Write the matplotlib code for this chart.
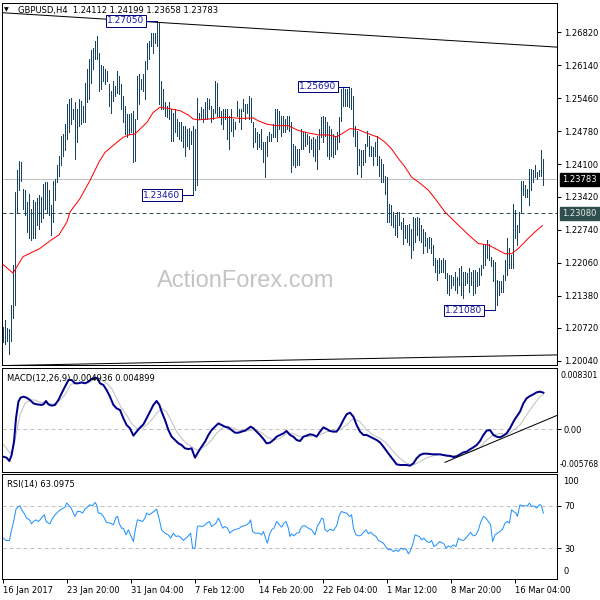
"""GBPUSD H4 chart: price bars with moving average, MACD and RSI panels."""

import matplotlib

matplotlib.use("Agg")
import matplotlib.pyplot as plt

# --- price bars (high / low per H4 bar) ---
BAR_HIGH = [
    1.2074, 1.2089, 1.2072, 1.2069, 1.2120, 1.2202, 1.2352, 1.2397, 1.2417, 1.2414,
    1.2359, 1.2356, 1.2332, 1.2349, 1.2318, 1.2335, 1.2332, 1.2339, 1.2346, 1.2342,
    1.2369, 1.2373, 1.2373, 1.2356, 1.2325, 1.2376, 1.2380, 1.2407, 1.2427, 1.2468,
    1.2472, 1.2492, 1.2533, 1.2544, 1.2547, 1.2523, 1.2537, 1.2523, 1.2544, 1.2540,
    1.2530, 1.2578, 1.2605, 1.2626, 1.2646, 1.2649, 1.2663, 1.2673, 1.2639, 1.2615,
    1.2612, 1.2605, 1.2602, 1.2574, 1.2561, 1.2581, 1.2571, 1.2602, 1.2591, 1.2574,
    1.2550, 1.2530, 1.2513, 1.2513, 1.2516, 1.2520, 1.2503, 1.2591, 1.2595, 1.2585,
    1.2595, 1.2622, 1.2660, 1.2663, 1.2680, 1.2680, 1.2680, 1.2705, 1.2701, 1.2581,
    1.2564, 1.2537, 1.2530, 1.2537, 1.2523, 1.2516, 1.2523, 1.2503, 1.2496, 1.2496,
    1.2489, 1.2489, 1.2482, 1.2485, 1.2479, 1.2489, 1.2482, 1.2547, 1.2516, 1.2527,
    1.2523, 1.2537, 1.2547, 1.2544, 1.2530, 1.2523, 1.2581, 1.2578, 1.2527, 1.2520,
    1.2523, 1.2523, 1.2523, 1.2509, 1.2523, 1.2503, 1.2496, 1.2540, 1.2523, 1.2523,
    1.2544, 1.2533, 1.2533, 1.2550, 1.2547, 1.2496, 1.2485, 1.2475, 1.2472, 1.2482,
    1.2455, 1.2455, 1.2468, 1.2475, 1.2472, 1.2492, 1.2523, 1.2523, 1.2520, 1.2509,
    1.2509, 1.2503, 1.2509, 1.2509, 1.2496, 1.2451, 1.2448, 1.2441, 1.2441, 1.2482,
    1.2475, 1.2475, 1.2472, 1.2468, 1.2462, 1.2465, 1.2462, 1.2468, 1.2482, 1.2506,
    1.2509, 1.2506, 1.2496, 1.2489, 1.2482, 1.2472, 1.2468, 1.2475, 1.2506, 1.2564,
    1.2567, 1.2564, 1.2564, 1.2569, 1.2567, 1.2550, 1.2489, 1.2479, 1.2441, 1.2438,
    1.2438, 1.2451, 1.2479, 1.2468, 1.2448, 1.2445, 1.2455, 1.2468, 1.2427, 1.2421,
    1.2410, 1.2386, 1.2383, 1.2328, 1.2325, 1.2311, 1.2304, 1.2311, 1.2311, 1.2291,
    1.2298, 1.2284, 1.2284, 1.2287, 1.2277, 1.2301, 1.2298, 1.2301, 1.2298, 1.2284,
    1.2277, 1.2270, 1.2257, 1.2260, 1.2257, 1.2243, 1.2216, 1.2212, 1.2216, 1.2212,
    1.2216, 1.2212, 1.2185, 1.2181, 1.2181, 1.2178, 1.2188, 1.2178, 1.2195, 1.2199,
    1.2188, 1.2188, 1.2185, 1.2195, 1.2188, 1.2192, 1.2192, 1.2188, 1.2195, 1.2202,
    1.2246, 1.2246, 1.2253, 1.2246, 1.2219, 1.2212, 1.2209, 1.2171, 1.2168, 1.2168,
    1.2181, 1.2212, 1.2257, 1.2236, 1.2222, 1.2328, 1.2315, 1.2284, 1.2311, 1.2376,
    1.2376, 1.2366, 1.2359, 1.2400, 1.2400, 1.2397, 1.2407, 1.2393, 1.2397, 1.2438,
    1.2420,
]
BAR_LOW = [
    1.2042, 1.2038, 1.2045, 1.2018, 1.2045, 1.2093, 1.2120, 1.2308, 1.2356, 1.2376,
    1.2318, 1.2304, 1.2270, 1.2257, 1.2253, 1.2257, 1.2257, 1.2284, 1.2277, 1.2291,
    1.2298, 1.2318, 1.2311, 1.2304, 1.2264, 1.2291, 1.2335, 1.2373, 1.2386, 1.2407,
    1.2427, 1.2438, 1.2462, 1.2475, 1.2492, 1.2503, 1.2421, 1.2455, 1.2489, 1.2492,
    1.2496, 1.2496, 1.2537, 1.2544, 1.2578, 1.2605, 1.2626, 1.2626, 1.2561, 1.2564,
    1.2581, 1.2574, 1.2581, 1.2530, 1.2516, 1.2540, 1.2550, 1.2557, 1.2554, 1.2523,
    1.2496, 1.2472, 1.2465, 1.2472, 1.2475, 1.2414, 1.2417, 1.2503, 1.2533, 1.2564,
    1.2561, 1.2544, 1.2605, 1.2626, 1.2653, 1.2639, 1.2660, 1.2653, 1.2533, 1.2523,
    1.2523, 1.2509, 1.2506, 1.2503, 1.2458, 1.2458, 1.2475, 1.2468, 1.2462, 1.2458,
    1.2445, 1.2427, 1.2448, 1.2441, 1.2451, 1.2346, 1.2356, 1.2366, 1.2503, 1.2503,
    1.2496, 1.2503, 1.2503, 1.2523, 1.2496, 1.2503, 1.2516, 1.2509, 1.2506, 1.2492,
    1.2482, 1.2503, 1.2462, 1.2441, 1.2479, 1.2468, 1.2482, 1.2509, 1.2496, 1.2482,
    1.2520, 1.2503, 1.2516, 1.2503, 1.2496, 1.2445, 1.2455, 1.2441, 1.2445, 1.2441,
    1.2414, 1.2383, 1.2427, 1.2458, 1.2458, 1.2465, 1.2465, 1.2458, 1.2482, 1.2468,
    1.2475, 1.2475, 1.2482, 1.2479, 1.2393, 1.2407, 1.2404, 1.2407, 1.2407, 1.2441,
    1.2441, 1.2448, 1.2451, 1.2434, 1.2441, 1.2427, 1.2417, 1.2400, 1.2441, 1.2465,
    1.2455, 1.2468, 1.2427, 1.2421, 1.2427, 1.2424, 1.2431, 1.2441, 1.2455, 1.2499,
    1.2530, 1.2530, 1.2530, 1.2527, 1.2523, 1.2468, 1.2448, 1.2390, 1.2407, 1.2383,
    1.2407, 1.2414, 1.2448, 1.2427, 1.2427, 1.2407, 1.2427, 1.2407, 1.2386, 1.2373,
    1.2373, 1.2349, 1.2291, 1.2291, 1.2284, 1.2281, 1.2264, 1.2260, 1.2284, 1.2277,
    1.2246, 1.2257, 1.2250, 1.2243, 1.2216, 1.2233, 1.2250, 1.2264, 1.2253, 1.2250,
    1.2226, 1.2240, 1.2229, 1.2236, 1.2226, 1.2202, 1.2188, 1.2171, 1.2185, 1.2188,
    1.2188, 1.2175, 1.2144, 1.2140, 1.2154, 1.2161, 1.2151, 1.2144, 1.2161, 1.2140,
    1.2134, 1.2161, 1.2164, 1.2147, 1.2161, 1.2140, 1.2144, 1.2158, 1.2161, 1.2181,
    1.2195, 1.2202, 1.2216, 1.2212, 1.2199, 1.2168, 1.2108, 1.2120, 1.2140, 1.2147,
    1.2147, 1.2171, 1.2181, 1.2195, 1.2195, 1.2195, 1.2257, 1.2243, 1.2270, 1.2311,
    1.2346, 1.2342, 1.2342, 1.2325, 1.2356, 1.2373, 1.2383, 1.2380, 1.2386, 1.2386,
    1.2366,
]

# red moving average, sampled along the line
MA_BAR = [0, 5, 10, 18.5, 24, 28, 32, 33.5, 38.5, 43.5,
          48, 51, 55, 60, 63, 66, 68.5, 72, 75, 78.5,
          83.5, 88.5, 92.7, 95, 97.7, 103.5, 108.5, 113.5, 118.5, 125,
          127.7, 132, 137, 142.7, 147.7, 152.7, 157.7, 162.7, 166.8, 169.3,
          173.5, 177.7, 181, 184.3, 187.7, 191, 194.3, 197.7, 201, 204.3,
          207.7, 212.7, 216, 221, 227.7, 232.7, 237.7, 242.7, 246, 251,
          254.3, 257.7, 262.7, 266, 269.7]
MA_VAL = [1.2203, 1.2185, 1.2219, 1.2236, 1.2253, 1.2264, 1.2291, 1.2311, 1.2339, 1.2376,
          1.2414, 1.2434, 1.2448, 1.2465, 1.2470, 1.2472, 1.2482, 1.2496, 1.2516, 1.2527,
          1.2524, 1.2520, 1.2511, 1.2503, 1.2501, 1.2503, 1.2506, 1.2506, 1.2504, 1.2505,
          1.2499, 1.2492, 1.2489, 1.2489, 1.2479, 1.2474, 1.2470, 1.2470, 1.2466, 1.2472,
          1.2483, 1.2481, 1.2475, 1.2470, 1.2465, 1.2455, 1.2441, 1.2421, 1.2404, 1.2383,
          1.2373, 1.2356, 1.2339, 1.2311, 1.2284, 1.2264, 1.2246, 1.2243, 1.2236, 1.2225,
          1.2225, 1.2236, 1.2257, 1.2270, 1.2283]

# trend lines on the price panel (end points)
TOP_LINE_BAR = [-0.5, 277]
TOP_LINE_VAL = [1.2722, 1.2651]
BOT_LINE_BAR = [-0.5, 277]
BOT_LINE_VAL = [1.19944, 1.20164]

LAST_CLOSE = 1.23783
LEVEL = 1.23080
PEAK_BAR = [77, 95, 173, 246]
PEAK_VAL = [1.27050, 1.23460, 1.25690, 1.21080]
PRICE_TICKS = [1.26820, 1.26140, 1.25460, 1.24780, 1.24100, 1.23420,
               1.22740, 1.22060, 1.21380, 1.20720, 1.20040]
TITLE = "GBPUSD,H4  1.24112 1.24199 1.23658 1.23783"

# MACD(12,26,9)
MACD_BAR = [0, 1.8, 3.2, 4.3, 5.5, 6.5, 7.7, 8.8, 10.2, 11.8,
            13.5, 15.2, 16.8, 19.3, 20.2, 21.5, 22.7, 24.3, 26, 27.7,
            29.3, 31, 32.7, 34.3, 36, 37.7, 39.3, 41, 42.7, 44.3,
            46, 47.2, 48.5, 50.2, 51.8, 53.5, 55.2, 56.8, 58.5, 60.2,
            61.8, 63.5, 65.2, 66.8, 68.5, 70.2, 71.8, 73.5, 75.2, 76.8,
            78.2, 79.3, 81, 82.7, 84.3, 86, 87.7, 89.3, 91, 92.7,
            94.3, 96, 97.7, 99.3, 101, 102.7, 104.3, 106, 107.7, 109.3,
            111, 112.7, 114.3, 116, 117.7, 119.3, 121, 122.7, 123.8, 125.2,
            126.8, 128.5, 130.2, 131.8, 133.5, 135.2, 136.8, 138.5, 140.2, 141.8,
            143.5, 145.2, 146.8, 148.5,
            150.2, 151.8, 153.5, 155.2, 156.8, 158.5, 160.2, 161.8, 163.5, 165.2,
            166.8, 168.5, 170.2, 171.8, 173.5, 175.2, 176.8, 178.5, 180.2, 181.8,
            183.5, 185.2, 186.8, 188.5, 190.2, 191.8, 193.5, 195.2, 196.8, 198.5,
            200.2, 201.8, 203.5, 205.2, 206.8, 208.5, 210.2, 211.8, 213.5, 215.2,
            216.8, 218.5, 220.2, 221.8, 223.5, 225.2, 226.8, 228.5, 230.2, 231.8,
            233.5, 235.2, 236.8, 238.5, 240.2, 241.8, 243.5, 245.2, 246.8, 248.5,
            250.2, 251.8, 253.5, 255.2, 256.8, 258.5, 260.2, 261.8, 263.5, 265.2,
            266.8, 268.5, 270.2]
MACD_VAL = [-0.00369, -0.00383, -0.00428, -0.00347, -0.00167, 0.00149, 0.00375, 0.00429, 0.00442, 0.00429,
            0.00397, 0.00352, 0.00339, 0.00330, 0.00339, 0.00384, 0.00339, 0.00321, 0.00330, 0.00397,
            0.00487, 0.00578, 0.00668, 0.00668, 0.00623, 0.00623, 0.00636, 0.00623, 0.00645, 0.00681,
            0.00699, 0.00690, 0.00623, 0.00600, 0.00532, 0.00442, 0.00330, 0.00284, 0.00262, 0.00149,
            0.00059, 0.00014, -0.00085, -0.00031, 0.00023, 0.00068, 0.00149, 0.00239, 0.00330, 0.00384,
            0.00330, 0.00239, 0.00127, -0.00009, -0.00099, -0.00144, -0.00189, -0.00212, -0.00257, -0.00266,
            -0.00257, -0.00383, -0.00302, -0.00234, -0.00167, -0.00076, -0.00009, 0.00036, 0.00081, 0.00059,
            0.00036, 0.00023, -0.00009, -0.00045, -0.00045, -0.00031, -0.00018, 0.00014, 0.00036, 0.00014,
            -0.00031, -0.00076, -0.00130, -0.00189, -0.00180, -0.00144, -0.00099, -0.00076, -0.00054, -0.00022,
            -0.00076, -0.00099, -0.00144, -0.00158,
            -0.00099, -0.00085, -0.00067, -0.00076, -0.00099, -0.00031, 0.00027, 0.00005, -0.00022, -0.00031,
            -0.00031, 0.00036, 0.00127, 0.00203, 0.00226, 0.00172, 0.00059, -0.00031, -0.00076, -0.00076,
            -0.00099, -0.00122, -0.00144, -0.00176, -0.00234, -0.00293, -0.00356, -0.00415, -0.00473, -0.00482,
            -0.00482, -0.00482, -0.00491, -0.00460, -0.00392, -0.00347, -0.00329, -0.00329, -0.00333, -0.00338,
            -0.00338, -0.00338, -0.00347, -0.00356, -0.00360, -0.00374, -0.00365, -0.00338, -0.00311, -0.00302,
            -0.00270, -0.00243, -0.00212, -0.00158, -0.00076, -0.00018, -0.00009, -0.00076, -0.00099, -0.00108,
            -0.00085, -0.00054, 0.00014, 0.00104, 0.00172, 0.00239, 0.00352, 0.00420, 0.00451, 0.00474,
            0.00501, 0.00510, 0.00496]
SIG_BAR = [0, 1.8, 3.5, 5.2, 6.8, 8.5, 11, 13.5, 16, 18.5,
           21, 23.5, 26, 28.5, 31, 32.7, 34.3, 36.8, 39.3, 41.8,
           44.3, 46.8, 49.3, 51.8, 54.3, 56.8, 59.3, 61.8, 64.3, 66.8,
           69.3, 71.8, 74.3, 76.8, 79.3, 81.8, 84.3, 86.8, 89.3, 91.8,
           94.3, 96.8, 99.3, 101.8, 104.3, 106.8, 109.3, 111.8, 115.2, 118.5,
           121.8, 125.2, 128.5, 131.8, 135.2, 138.5, 141.8, 145.2, 148.5,
           151.8, 155.2, 158.5, 161.8, 165.2, 168.5, 171.8, 175.2, 178.5, 181.8,
           185.2, 188.5, 191.8, 195.2, 198.5, 201.8, 205.2, 208.5, 211.8, 215.2,
           218.5, 221.8, 225.2, 228.5, 231.8, 235.2, 238.5, 241.8, 245.2, 248.5,
           251.8, 255.2, 258.5, 261.8, 265.2, 268.5, 270.2]
SIG_VAL = [-0.00202, -0.00257, -0.00324, -0.00257, -0.00031, 0.00194, 0.00352, 0.00397, 0.00397, 0.00366,
           0.00352, 0.00339, 0.00352, 0.00397, 0.00465, 0.00555, 0.00614, 0.00623, 0.00623, 0.00623,
           0.00654, 0.00681, 0.00668, 0.00623, 0.00555, 0.00420, 0.00284, 0.00194, 0.00081, 0.00014,
           0.00014, 0.00059, 0.00127, 0.00217, 0.00284, 0.00239, 0.00104, -0.00031, -0.00122, -0.00189,
           -0.00234, -0.00279, -0.00257, -0.00212, -0.00144, -0.00054, 0.00014, 0.00045, 0.00014, -0.00018,
           -0.00022, -0.00009, -0.00031, -0.00099, -0.00144, -0.00122, -0.00054, -0.00054, -0.00099,
           -0.00099, -0.00090, -0.00076, -0.00031, -0.00022, -0.00009, 0.00059, 0.00149, 0.00104, -0.00009,
           -0.00076, -0.00122, -0.00189, -0.00302, -0.00392, -0.00460, -0.00482, -0.00437, -0.00383, -0.00356,
           -0.00338, -0.00347, -0.00356, -0.00356, -0.00324, -0.00293, -0.00248, -0.00144, -0.00076, -0.00054,
           -0.00076, -0.00009, 0.00059, 0.00194, 0.00330, 0.00442, 0.00474]
MACD_TL_BAR = [221, 277.5]
MACD_TL_VAL = [-0.004458, 0.001942]
MACD_MAX, MACD_MIN = 0.008301, -0.005768
MACD_TITLE = "MACD(12,26,9) 0.004936 0.004899"

# RSI(14)
RSI_BAR = [0.2, 1.0, 1.8, 3.2, 4.3, 5.5, 6.5, 7.7, 8.5, 9.3,
           10.5, 11.8, 13.2, 14.3, 15.2, 16.5, 17.7, 18.8, 19.8, 20.7,
           21.5, 22.7, 23.5, 24.3, 26.0, 27.7, 29.3, 31.0, 31.8, 32.7,
           33.8, 34.8, 36.0, 37.2, 38.5, 39.8, 41.0, 42.2, 43.5, 44.8,
           46.0, 46.8, 47.7, 48.8, 50.2, 51.8, 53.5, 55.2, 56.5, 57.3,
           58.2, 59.3, 60.2, 61.5, 62.7, 63.8, 65.2, 66.0, 67.2, 68.5,
           69.8, 71.0, 71.8, 73.2, 74.3, 75.5, 76.8, 78.2, 79.3, 81.0,
           82.7, 83.8, 85.2, 86.5, 87.7, 89.3, 90.2, 91.5, 92.7, 93.8,
           94.8, 96.0, 97.2, 98.2, 99.3, 100.5, 101.8, 103.2, 104.3, 105.5,
           106.5, 107.7, 108.5, 109.8, 111.0, 112.2, 113.5, 114.3, 115.5, 116.8,
           118.2, 119.3, 120.5, 121.8, 123.2, 123.8, 124.8, 126.0, 127.2, 128.2,
           129.3, 130.2, 131.3, 132.2, 133.2, 134.3, 135.5, 136.8, 138.2, 139.3,
           140.5, 141.5, 142.7, 143.5, 144.3, 145.5, 146.8, 148.2,
           148.5, 149.8, 151.0, 152.7, 154.3, 156.0, 157.2, 158.2, 159.3, 160.2,
           161.0, 162.2, 163.5, 165.2, 166.8, 168.2, 169.3, 170.5, 171.8, 173.2,
           174.3, 175.2, 176.5, 177.7, 178.8, 180.2, 181.5, 182.7, 183.8, 185.2,
           186.5, 187.7, 188.8, 190.2, 191.5, 192.7, 193.8, 195.2, 196.5, 197.7,
           198.8, 200.2, 201.5, 202.7, 203.5, 204.8, 206.0, 207.2, 208.2, 209.3,
           210.5, 211.8, 213.2, 214.3, 215.5, 216.8, 218.2, 219.3, 220.5, 221.5,
           222.7, 223.8, 225.2, 226.5, 227.7, 228.8, 230.2, 231.5, 232.7, 233.8,
           235.2, 236.5, 237.7, 238.8, 240.2, 241.5, 242.7, 243.8, 244.8, 246.0,
           247.2, 248.5, 249.8, 251.0, 252.2, 253.2, 254.3, 255.2, 256.5, 257.2,
           258.5, 259.8, 261.0, 262.2, 263.2, 264.3, 265.5, 266.8, 268.2, 268.8,
           269.3, 270.2]
RSI_VAL = [39.5, 37.9, 37.3, 37.3, 47.4, 56.8, 66.9, 69.4, 70.0, 66.3,
           63.1, 58.4, 56.8, 53.0, 55.2, 56.8, 55.2, 57.4, 60.0, 61.5,
           55.2, 53.7, 53.0, 56.8, 61.5, 64.7, 66.9, 68.8, 72.6, 71.0,
           68.8, 64.7, 60.0, 64.7, 64.7, 63.1, 66.9, 68.8, 71.0, 70.0,
           73.2, 71.0, 63.1, 63.1, 60.0, 54.3, 53.7, 52.1, 59.3, 60.0,
           53.0, 48.9, 48.9, 42.6, 47.4, 42.6, 36.3, 45.8, 56.8, 56.2,
           55.2, 58.4, 63.1, 61.5, 63.1, 64.7, 66.9, 56.8, 47.4, 44.2,
           42.6, 39.5, 44.2, 41.1, 41.7, 39.5, 37.3, 39.5, 41.7, 44.2,
           30.0, 30.0, 50.5, 51.1, 50.5, 51.1, 53.7, 55.2, 50.5, 52.1,
           53.7, 58.4, 55.2, 48.9, 50.5, 48.9, 44.2, 45.8, 47.4, 48.0,
           48.9, 50.5, 51.1, 52.1, 54.3, 56.8, 45.8, 44.2, 44.2, 44.2,
           42.6, 45.8, 39.5, 34.8, 42.6, 47.4, 48.9, 55.2, 52.1, 49.9,
           53.7, 55.2, 48.9, 41.1, 43.6, 41.7, 44.2, 44.8,
           47.4, 51.1, 51.1, 48.9, 47.4, 42.6, 51.1, 53.7, 58.4, 57.4,
           47.4, 45.8, 48.0, 46.7, 51.1, 61.5, 64.7, 63.7, 63.1, 60.0,
           61.5, 48.9, 42.6, 41.7, 42.0, 44.8, 47.4, 43.6, 45.2, 42.6,
           41.1, 37.3, 36.3, 34.8, 31.0, 28.5, 29.1, 26.9, 28.5, 26.9,
           30.0, 29.1, 29.4, 24.7, 26.9, 33.2, 42.6, 41.7, 41.1, 37.9,
           39.5, 36.3, 35.4, 37.3, 31.6, 33.2, 36.3, 35.4, 34.1, 30.0,
           32.2, 31.0, 33.2, 31.6, 39.5, 37.9, 37.3, 39.5, 42.6, 44.8,
           41.7, 42.6, 47.4, 54.3, 60.0, 58.4, 55.2, 52.1, 36.3, 42.6,
           44.2, 45.8, 48.0, 53.7, 55.2, 53.7, 66.3, 64.7, 63.1, 60.0,
           71.0, 70.0, 70.0, 70.0, 72.6, 69.4, 70.0, 67.8, 71.0, 71.0,
           69.4, 63.1]
RSI_TITLE = "RSI(14) 63.0975"

DATE_BARS = [0, 32, 64, 96, 128, 160, 192, 224, 256]
DATE_LABELS = ["16 Jan 2017", "23 Jan 20:00", "31 Jan 04:00", "7 Feb 12:00",
               "14 Feb 20:00", "22 Feb 04:00", "1 Mar 12:00", "8 Mar 20:00",
               "16 Mar 04:00"]

assert len(BAR_HIGH) == len(BAR_LOW)
assert len(MA_BAR) == len(MA_VAL)
assert len(MACD_BAR) == len(MACD_VAL) and len(SIG_BAR) == len(SIG_VAL)
assert len(RSI_BAR) == len(RSI_VAL)

PX = 0.72  # one pixel in points at 100 dpi
BAR_COLOR = "#164462"
NAVY = "#000080"

plt.rcParams["font.family"] = "DejaVu Sans"
plt.rcParams["font.size"] = 6

fig = plt.figure(figsize=(6, 6), dpi=100)
fig.patch.set_facecolor("white")


def panel(top, bottom):
    # pixel rows -> figure fraction
    return fig.add_axes([2 / 600, 1 - bottom / 600, 555 / 600, (bottom - top) / 600])


ax = panel(3, 365)
axm = panel(368, 472)
axr = panel(474, 579)
for a in (ax, axm, axr):
    a.set_xlim(-0.5, 277)
    for s in a.spines.values():
        s.set_linewidth(PX)
        s.set_color("black")
    a.yaxis.tick_right()
    a.tick_params(axis="y", direction="out", length=3, width=PX, labelsize=6, pad=2)
    a.tick_params(axis="x", bottom=False, labelbottom=False)

# ---- price panel ----
ax.set_ylim(1.19956, 1.27420)
ax.text(157 / 600, 1 - 281 / 600, "ActionForex.com", transform=fig.transFigure,
        family="Liberation Sans", fontsize=17, color="#c4c4c4", ha="left", va="center",
        zorder=0)
ax.axhline(LAST_CLOSE, color="#c0c0c0", lw=PX, zorder=1)
ax.axhline(LEVEL, color="#2f4f4f", lw=PX, ls=(0, (4, 3)), zorder=1)
ax.vlines(range(len(BAR_HIGH)), BAR_LOW, BAR_HIGH, color=BAR_COLOR, lw=PX,
          antialiased=False, zorder=2)
ax.plot(MA_BAR, MA_VAL, color="red", lw=PX, zorder=3)
ax.plot(TOP_LINE_BAR, TOP_LINE_VAL, color="black", lw=PX, zorder=3)
ax.plot(BOT_LINE_BAR, BOT_LINE_VAL, color="black", lw=PX, zorder=3)
ax.set_yticks(PRICE_TICKS)
ax.set_yticklabels([f"{v:.5f}" for v in PRICE_TICKS])

for b, v in zip(PEAK_BAR, PEAK_VAL):
    ax.plot([b - 5, b], [v, v], color=NAVY, lw=PX, zorder=4)
    ax.text(b - 15.5, v, f"{v:.5f}", ha="center", va="center", fontsize=6.5,
            color="#1a1aa6", zorder=5,
            bbox=dict(boxstyle="square,pad=0.12", fc="white", ec=NAVY, lw=PX))

for val, fc, tc in ((LAST_CLOSE, "black", "white"), (LEVEL, "#2f4f4f", "#e8e8e8")):
    ax.annotate(f"{val:.5f}", xy=(1, val), xycoords=("axes fraction", "data"),
                xytext=(4, 0), textcoords="offset points", ha="left", va="center",
                fontsize=6, color=tc, annotation_clip=False,
                bbox=dict(boxstyle="square,pad=0.25", fc=fc, ec=fc))

fig.text(4 / 600, 1 - 10 / 600, "\u25bc", fontsize=4.5, va="center", ha="left")
fig.text(18 / 600, 1 - 10.5 / 600, TITLE, fontsize=6, va="center", ha="left")

# ---- MACD panel ----
axm.set_ylim(MACD_MIN, MACD_MAX)
axm.axhline(0, color="#c0c0c0", lw=PX, ls=(0, (4, 3)))
axm.plot(SIG_BAR, SIG_VAL, color="#c0c0c0", lw=PX)
axm.plot(MACD_BAR, MACD_VAL, color="#00008b", lw=2 * PX)
axm.plot(MACD_TL_BAR, MACD_TL_VAL, color="black", lw=PX)
axm.set_yticks([0])
axm.set_yticklabels(["0.00"])
axm.text(1.0055, 0.93, f"{MACD_MAX:.6f}", transform=axm.transAxes, va="center",
         ha="left", fontsize=5.7, clip_on=False)
axm.text(1.0055, 0.07, f"{MACD_MIN:.6f}", transform=axm.transAxes, va="center",
         ha="left", fontsize=5.5, clip_on=False)
axm.text(0.009, 0.9, MACD_TITLE, transform=axm.transAxes, va="center", ha="left",
         fontsize=6)

# ---- RSI panel ----
axr.set_ylim(1.0, 100)
for lvl in (70, 30):
    axr.axhline(lvl, color="#c0c0c0", lw=PX, ls=(0, (4, 3)))
axr.plot(RSI_BAR, RSI_VAL, color="#1e90ff", lw=PX)
axr.set_yticks([70, 30])
axr.set_yticklabels(["70", "30"])
axr.text(1.011, 0.93, "100", transform=axr.transAxes, va="center", ha="left", fontsize=6)
axr.text(1.011, 0.07, "0", transform=axr.transAxes, va="center", ha="left", fontsize=6)
axr.text(0.009, 0.9, RSI_TITLE, transform=axr.transAxes, va="center", ha="left",
         fontsize=6)
axr.set_xticks(DATE_BARS)
axr.set_xticklabels(DATE_LABELS, ha="left")
axr.tick_params(axis="x", bottom=True, labelbottom=True, direction="out", length=3,
                width=PX, labelsize=6, pad=2)

fig.savefig("out.png", dpi=100)
